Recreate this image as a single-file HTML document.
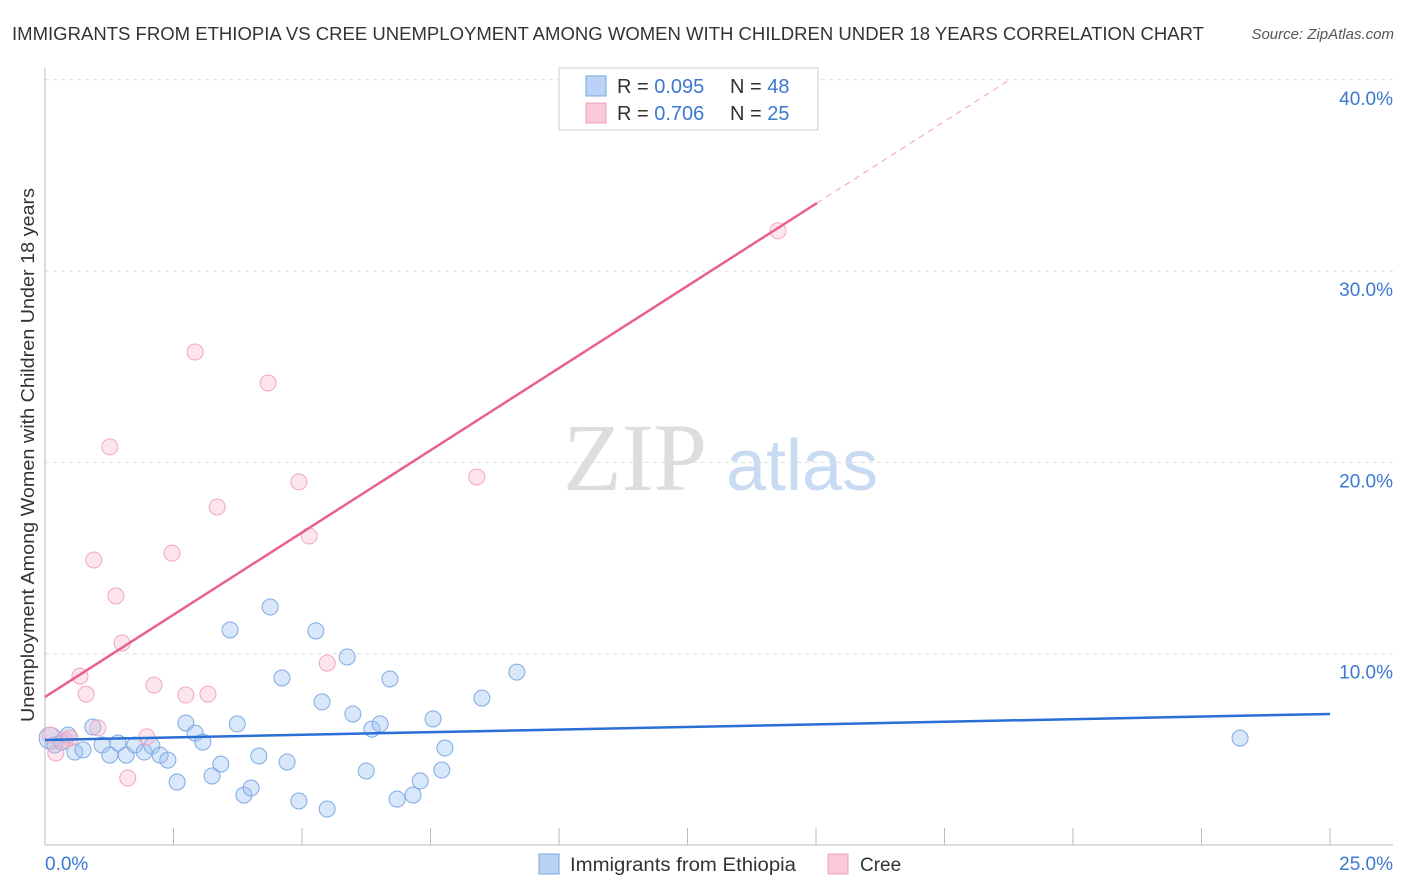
<!DOCTYPE html>
<html><head><meta charset="utf-8"><style>
body{margin:0;background:#fff;font-family:"Liberation Sans",sans-serif}
</style></head><body>
<svg id="chart" width="1406" height="892" style="display:block">
<text x="12" y="40" font-size="18" fill="#333" textLength="1192" lengthAdjust="spacingAndGlyphs">IMMIGRANTS FROM ETHIOPIA VS CREE UNEMPLOYMENT AMONG WOMEN WITH CHILDREN UNDER 18 YEARS CORRELATION CHART</text>
<text x="1394" y="39" font-size="15" fill="#555" font-style="italic" text-anchor="end">Source: ZipAtlas.com</text>
<text transform="translate(34,722) rotate(-90)" font-size="18" fill="#333" textLength="534" lengthAdjust="spacingAndGlyphs">Unemployment Among Women with Children Under 18 years</text>
<g><text x="635" y="490" font-size="96" fill="#ddd" font-family="Liberation Serif,serif" text-anchor="middle">ZIP</text><text x="802" y="490" font-size="72" fill="#c8dbf3" text-anchor="middle">atlas</text></g>
<g id="grid"></g><g id="axes"></g><g id="marks"></g>
<g>
<rect x="559" y="68" width="259" height="62" fill="#fff" stroke="#ccc"/>
<rect x="586" y="76" width="20" height="20" fill="#b9d2f5" stroke="#7aa6e0"/>
<rect x="586" y="103" width="20" height="20" fill="#f9c9d8" stroke="#eea0b8"/>
<text x="617" y="93" font-size="20" fill="#333">R = <tspan fill="#3b78d0">0.095</tspan></text>
<text x="730" y="93" font-size="20" fill="#333">N = <tspan fill="#3b78d0">48</tspan></text>
<text x="617" y="120" font-size="20" fill="#333">R = <tspan fill="#3b78d0">0.706</tspan></text>
<text x="730" y="120" font-size="20" fill="#333">N = <tspan fill="#3b78d0">25</tspan></text>
</g>
<g>
<rect x="539" y="854" width="20" height="20" fill="#b9d2f5" stroke="#7aa6e0"/>
<text x="570" y="871" font-size="19" fill="#333" textLength="226" lengthAdjust="spacingAndGlyphs">Immigrants from Ethiopia</text>
<rect x="828" y="854" width="20" height="20" fill="#f9c9d8" stroke="#eea0b8"/>
<text x="860" y="871" font-size="19" fill="#333">Cree</text>
</g>
</svg>
<script>
const blueX=[0.10,0.19,0.33,0.45,0.58,0.74,0.93,1.11,1.26,1.42,1.58,1.75,1.93,2.08,2.24,2.39,2.57,2.74,2.92,3.07,3.25,3.42,3.60,3.74,3.87,4.01,4.16,4.38,4.61,4.71,4.94,5.27,5.39,5.49,5.88,5.99,6.25,6.36,6.52,6.71,6.85,7.16,7.30,7.55,7.72,7.78,8.50,9.18,23.25];
const blueY=[5.59,5.23,5.38,5.75,4.86,4.97,6.17,5.23,4.70,5.33,4.70,5.23,4.86,5.18,4.70,4.44,3.29,6.38,5.85,5.38,3.61,4.23,11.24,6.33,2.61,2.98,4.65,12.44,8.73,4.34,2.30,11.19,7.48,1.88,9.83,6.85,3.87,6.06,6.33,8.68,2.40,2.61,3.35,6.59,3.92,5.07,7.68,9.04,5.59];
const pinkX=[0.10,0.21,0.39,0.49,0.68,0.80,0.95,1.03,1.26,1.38,1.50,1.61,1.98,2.12,2.47,2.74,2.92,3.17,3.35,4.34,4.94,5.14,5.49,8.40,14.26];
const pinkY=[5.75,4.81,5.49,5.59,8.83,7.89,14.90,6.12,20.81,13.02,10.56,3.50,5.65,8.36,15.26,7.84,25.77,7.89,17.67,24.15,18.98,16.15,9.51,19.24,32.10];
const blueTrend=[5.49,6.85];
const pinkTrend=[7.74,33.56];
const yTicks=[10,20,30,40];
const yTickLabels=["10.0%","20.0%","30.0%","40.0%"];
const xTickLabels=["0.0%","25.0%"];
const X=v=>45+v*51.4, Y=v=>845-v*19.13;
const NS="http://www.w3.org/2000/svg";
function mk(t,a,p){const e=document.createElementNS(NS,t);for(const k in a)e.setAttribute(k,a[k]);p.appendChild(e);return e;}
const grid=document.getElementById('grid'),axes=document.getElementById('axes'),marks=document.getElementById('marks');
yTicks.forEach((v,i)=>{
 const l=mk('line',{x1:45,x2:1393,y1:Y(v),y2:Y(v),stroke:'#ddd','stroke-dasharray':'4,4'},grid);
 
 
 const t=mk('text',{x:1393,y:Y(v)+25,'font-size':19,fill:'#3b78d0','text-anchor':'end'},axes);
 t.textContent=yTickLabels[i];
 
 
});
mk('line',{x1:45,x2:45,y1:68,y2:845,stroke:'#bbb'},axes);
mk('line',{x1:45,x2:1393,y1:845,y2:845,stroke:'#bbb'},axes);
for(let i=1;i<=10;i++){const l=mk('line',{x1:X(i*2.5),x2:X(i*2.5),y1:828,y2:845,stroke:'#bbb'},axes);
 
 }
[[0,'start',45],[1,'end',1393]].forEach(([i,a,x])=>{const t=mk('text',{x:x,y:870,'font-size':19,fill:'#3b78d0','text-anchor':a},axes);t.textContent=xTickLabels[i];
 
 });
blueX.forEach((x,i)=>{const c=mk('circle',{cx:X(x),cy:Y(blueY[i]),r:i==0?11:8,fill:'rgba(160,195,242,0.4)',stroke:'#80aae2','stroke-width':1},marks);
 
 });
pinkX.forEach((x,i)=>{const c=mk('circle',{cx:X(x),cy:Y(pinkY[i]),r:8,fill:'rgba(247,180,202,0.35)',stroke:'#f0a8be','stroke-width':1},marks);
 
 });
const bt=mk('line',{x1:X(0),y1:Y(blueTrend[0]),x2:X(25),y2:Y(blueTrend[1]),stroke:'#2a6fd6','stroke-width':2.5},marks);


const slope=(pinkTrend[1]-pinkTrend[0])/15.02;
const pt=mk('line',{x1:X(0),y1:Y(pinkTrend[0]),x2:X(15.02),y2:Y(pinkTrend[1]),stroke:'#e8608e','stroke-width':2.5},marks);


const xe=(40-pinkTrend[0])/slope;
const pd=mk('line',{x1:X(15.02),y1:Y(pinkTrend[1]),x2:X(xe),y2:Y(40),stroke:'#f0a0b8','stroke-width':1,'stroke-dasharray':'6,5'},marks);


</script>
</body></html>
